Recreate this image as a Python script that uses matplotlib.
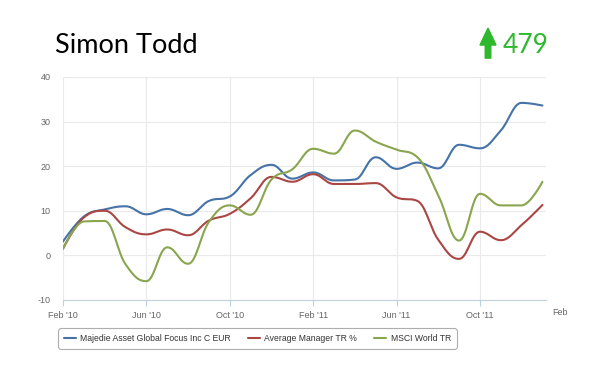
import numpy as np
import matplotlib
matplotlib.use("Agg")
import matplotlib.pyplot as plt
from matplotlib.patches import Polygon

# monthly points, Feb '10 .. Jan '12
months = ["Feb '10", "Mar '10", "Apr '10", "May '10", "Jun '10", "Jul '10", "Aug '10", "Sep '10",
          "Oct '10", "Nov '10", "Dec '10", "Jan '11", "Feb '11", "Mar '11", "Apr '11", "May '11",
          "Jun '11", "Jul '11", "Aug '11", "Sep '11", "Oct '11", "Nov '11", "Dec '11", "Jan '12"]
fund = [3.1, 8.7, 10.3, 11.0, 9.2, 10.4, 9.0, 12.2, 13.2, 18.0, 20.3, 17.2,
        18.6, 16.8, 17.0, 22.0, 19.4, 20.8, 19.5, 24.8, 24.0, 28.0, 34.2, 33.6]
avg_mgr = [1.5, 8.5, 10.0, 6.3, 4.7, 5.8, 4.5, 7.8, 9.3, 12.8, 17.6, 16.5,
           18.2, 16.0, 16.0, 16.2, 13.0, 12.2, 3.5, -0.8, 5.3, 3.4, 6.8, 11.3]
msci = [1.5, 7.6, 7.7, -2.0, -5.8, 1.8, -1.9, 7.5, 11.2, 9.1, 17.0, 19.3,
        23.9, 22.8, 28.0, 25.5, 23.7, 22.0, 13.5, 3.3, 13.8, 11.2, 11.2, 16.5]
series_names = ["Majedie Asset Global Focus Inc C EUR", "Average Manager TR %", "MSCI World TR"]
tick_labels = ["Feb '10", "Jun '10", "Oct '10", "Feb '11", "Jun '11", "Oct '11", "Feb"]
score = "479"

colors = ["#4572A7", "#AA4643", "#89A54E"]


def spline(x, y, n=16):
    # bezier smoothing in the style of a highcharts "spline" series
    x = np.asarray(x, float); y = np.asarray(y, float)
    k = len(x)
    lc = np.column_stack([x, y]).copy()
    rc = lc.copy()
    sm = 1.5
    for i in range(1, k - 1):
        lx = (sm * x[i] + x[i - 1]) / (sm + 1); ly = (sm * y[i] + y[i - 1]) / (sm + 1)
        rx = (sm * x[i] + x[i + 1]) / (sm + 1); ry = (sm * y[i] + y[i + 1]) / (sm + 1)
        corr = (ry - ly) * (rx - x[i]) / (rx - lx) + y[i] - ry
        ly += corr; ry += corr
        if ly > y[i - 1] and ly > y[i]:
            ly = max(y[i - 1], y[i]); ry = 2 * y[i] - ly
        elif ly < y[i - 1] and ly < y[i]:
            ly = min(y[i - 1], y[i]); ry = 2 * y[i] - ly
        if ry > y[i + 1] and ry > y[i]:
            ry = max(y[i + 1], y[i]); ly = 2 * y[i] - ry
        elif ry < y[i + 1] and ry < y[i]:
            ry = min(y[i + 1], y[i]); ly = 2 * y[i] - ry
        lc[i] = lx, ly
        rc[i] = rx, ry
    t = np.linspace(0, 1, n, endpoint=False)[:, None]
    pts = []
    for i in range(k - 1):
        p0 = np.array([x[i], y[i]]); p3 = np.array([x[i + 1], y[i + 1]])
        p1 = rc[i]; p2 = lc[i + 1]
        pts.append((1 - t) ** 3 * p0 + 3 * (1 - t) ** 2 * t * p1 + 3 * (1 - t) * t ** 2 * p2 + t ** 3 * p3)
    pts.append(np.array([[x[-1], y[-1]]]))
    pts = np.vstack(pts)
    return pts[:, 0], pts[:, 1]


plt.rcParams["font.family"] = ["Liberation Sans", "DejaVu Sans"]
plt.rcParams["axes.unicode_minus"] = False
fig = plt.figure(figsize=(6, 3.85), dpi=100)
ax = fig.add_axes([0.105, 0.221, 0.805, 0.579])

xs = np.arange(len(months))
for vals, name, c in zip([fund, avg_mgr, msci], series_names, colors):
    sx, sy = spline(xs, vals)
    ax.plot(sx, sy, color=c, lw=1.5, label=name, solid_capstyle="round")

ax.set_xlim(0, 23.17)
ax.set_ylim(-10, 40)
ax.set_yticks([-10, 0, 10, 20, 30, 40])
ax.set_xticks([0, 4, 8, 12, 16, 20])
ax.set_xticklabels(tick_labels[:-1])
ax.text(23.85, -0.035, tick_labels[-1], transform=ax.get_xaxis_transform(), ha="center", va="top",
        fontsize=6.5, color="#666666", clip_on=False)
ax.grid(True, color="#EAEAEA", lw=0.8)
ax.set_axisbelow(True)
for s in ["top", "right", "left"]:
    ax.spines[s].set_visible(False)
ax.spines["bottom"].set_color("#C0D0E0")
ax.tick_params(axis="x", colors="#C0D0E0", labelcolor="#666666", labelsize=6.5, length=4, pad=4)
ax.tick_params(axis="y", length=0, labelcolor="#666666", labelsize=6.5, pad=9)

leg = fig.legend(loc="center", bbox_to_anchor=(0.429, 0.121), ncol=3, fontsize=6.2, frameon=True,
                 handlelength=1.4, columnspacing=2.0, handletextpad=0.5, borderpad=0.45)
leg.get_frame().set_edgecolor("#999999")
leg.get_frame().set_linewidth(0.8)
leg.get_frame().set_boxstyle("round,pad=0.2,rounding_size=0.3")
for t in leg.get_texts():
    t.set_color("#333333")

fig.text(0.092, 0.882, "Simon Todd", fontsize=19.5, family=["Lato", "DejaVu Sans"],
         color="black", ha="left", va="center")
arrow = Polygon([(0.8133, 0.927), (0.8, 0.883), (0.8087, 0.883), (0.8087, 0.849),
                 (0.818, 0.849), (0.818, 0.883), (0.8267, 0.883)],
                closed=True, color="#2DB82D", transform=fig.transFigure)
fig.patches.append(arrow)
fig.text(0.838, 0.882, score, fontsize=19, family=["Lato", "DejaVu Sans"],
         color="#2DB82D", ha="left", va="center")

fig.savefig("out.png", dpi=100)
